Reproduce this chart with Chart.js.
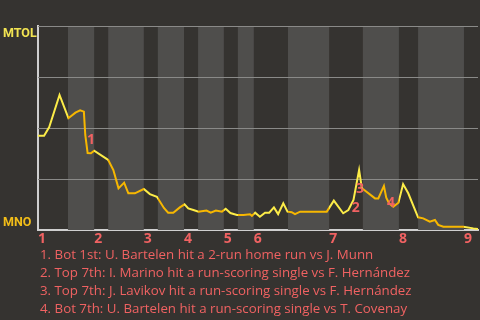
<!DOCTYPE html>
<html>
<head>
<meta charset="utf-8">
<script src="https://cdn.jsdelivr.net/npm/chart.js@4/dist/chart.umd.min.js"></script>
<style>
  html, body { margin: 0; padding: 0; background: #353330; }
  #wrap { position: relative; width: 480px; height: 320px; overflow: hidden; }
  #events { position: absolute; left: 40px; top: 244.5px; margin: 0; padding: 0; list-style: none;
            font-family: "Open Sans", sans-serif; font-size: 13.3px; line-height: 18px; color: #f06262; white-space: nowrap; }
</style>
</head>
<body>
<div id="wrap">
  <canvas id="c" width="480" height="320"></canvas>
  <ol id="events"></ol>
</div>
<script>
// ---- data ----
const teamTop = "MTOL";
const teamBottom = "MNO";
const inningLabels = ["1", "2", "3", "4", "5", "6", "7", "8", "9"];
const inningStarts = [0, 12.0, 22.6, 31.2, 39.7, 46.1, 62.2, 77.1, 91.0];
const bottomHalfStarts = [6.4, 15.0, 25.6, 34.2, 42.7, 53.4, 69.4, 81.2];
const bottomHalfEnds   = [12.0, 22.6, 31.2, 39.7, 46.1, 62.2, 77.1, 91.0];
const xMax = 94;

// event index (x) and win probability of the top team (y)
const playX = [0, 1.3, 2.4, 4.6, 6.5, 8.0, 9.0, 9.8, 10.1, 10.6, 11.3, 12.0, 14.5, 15.0, 16.1, 17.2, 18.4, 19.3, 20.7, 22.6,
  23.9, 25.4, 26.9, 27.8, 28.9, 30.3, 31.3, 32.1, 33.2, 34.3, 35.3, 36.0, 36.9, 38.0, 39.3, 40.1, 41.1, 42.5, 43.9, 45.3,
  45.7, 46.4, 47.4, 48.5, 49.4, 50.4, 51.3, 52.4, 53.3, 54.2, 54.9, 56.0, 61.7, 63.2, 65.2, 66.3, 67.4, 68.6, 69.2, 69.7,
  72.0, 72.7, 73.9, 74.4, 75.0, 75.9, 77.0, 78.0, 79.1, 81.2, 82.3, 83.7, 84.8, 85.5, 86.6, 90.9, 93.0, 94.0];
const winProb = [0.462, 0.462, 0.505, 0.662, 0.548, 0.575, 0.587, 0.580, 0.466, 0.377, 0.376, 0.389, 0.351, 0.343, 0.294, 0.204, 0.232, 0.180, 0.180, 0.201,
  0.176, 0.163, 0.108, 0.085, 0.085, 0.111, 0.126, 0.106, 0.098, 0.090, 0.093, 0.095, 0.085, 0.095, 0.090, 0.104, 0.083, 0.074, 0.074, 0.077,
  0.069, 0.085, 0.065, 0.085, 0.085, 0.111, 0.078, 0.131, 0.090, 0.087, 0.078, 0.090, 0.090, 0.144, 0.082, 0.098, 0.147, 0.294, 0.204, 0.196,
  0.155, 0.155, 0.216, 0.158, 0.131, 0.114, 0.134, 0.225, 0.180, 0.062, 0.057, 0.041, 0.049, 0.025, 0.016, 0.016, 0.008, 0.005];

// key plays
const keyPlayMarks = ["1", "2", "3", "4"];
const keyPlayX = [11.3, 67.9, 68.8, 75.4];
const keyPlayY = [0.441, 0.108, 0.201, 0.132];
const keyPlayText = [
  "Bot 1st: U. Bartelen hit a 2-run home run vs J. Munn",
  "Top 7th: I. Marino hit a run-scoring single vs F. Hernández",
  "Top 7th: J. Lavikov hit a run-scoring single vs F. Hernández",
  "Bot 7th: U. Bartelen hit a run-scoring single vs T. Covenay"
];

// ---- styles ----
const BG_LIGHT = "#4f4e4c";
const YELLOW = "#fcec48";
const AMBER = "#f7b700";
const LABEL_YELLOW = "#f2e452";
const LABEL_AMBER = "#f2bd18";
const SALMON = "#f06262";

const ol = document.getElementById("events");
keyPlayText.forEach((t, i) => {
  const li = document.createElement("li");
  li.textContent = keyPlayMarks[i] + ". " + t;
  ol.appendChild(li);
});

// line colour: yellow while the top team bats, amber while the bottom team bats
function halfInningGradient(ctx) {
  const chart = ctx.chart;
  const area = chart.chartArea;
  const xs = chart.scales && chart.scales.x;
  if (!area || !xs) return YELLOW;
  const w = area.right - area.left;
  const g = chart.ctx.createLinearGradient(area.left, 0, area.right, 0);
  const clamp = v => Math.min(1, Math.max(0, v));
  g.addColorStop(0, YELLOW);
  for (let i = 0; i < bottomHalfStarts.length; i++) {
    const f0 = clamp((xs.getPixelForValue(bottomHalfStarts[i]) - area.left) / w);
    const f1 = clamp((xs.getPixelForValue(bottomHalfEnds[i]) - area.left) / w);
    g.addColorStop(f0, YELLOW);
    g.addColorStop(f0, AMBER);
    g.addColorStop(f1, AMBER);
    g.addColorStop(f1, YELLOW);
  }
  g.addColorStop(1, YELLOW);
  return g;
}

const bandsPlugin = {
  id: "bands",
  beforeDatasetsDraw(chart) {
    const { ctx, chartArea, scales } = chart;
    ctx.save();
    ctx.fillStyle = BG_LIGHT;
    for (let i = 0; i < bottomHalfStarts.length; i++) {
      const x0 = scales.x.getPixelForValue(bottomHalfStarts[i]);
      const x1 = scales.x.getPixelForValue(bottomHalfEnds[i]);
      ctx.fillRect(x0, chartArea.top, x1 - x0, chartArea.bottom - chartArea.top);
    }
    // horizontal grid lines on top of the bands
    ctx.strokeStyle = "#8a8a88";
    ctx.lineWidth = 1;
    [0.25, 0.5, 0.75, 1].forEach(v => {
      const y = Math.round(scales.y.getPixelForValue(v)) + 0.5;
      ctx.beginPath();
      ctx.moveTo(chartArea.left, y);
      ctx.lineTo(chartArea.right, y);
      ctx.stroke();
    });
    ctx.restore();
  }
};

const marksPlugin = {
  id: "marks",
  afterDatasetsDraw(chart) {
    const { ctx, scales } = chart;
    ctx.save();
    ctx.fillStyle = SALMON;
    ctx.font = "bold 14px 'Open Sans', sans-serif";
    ctx.textAlign = "center";
    ctx.textBaseline = "middle";
    keyPlayMarks.forEach((m, i) => {
      ctx.fillText(m, scales.x.getPixelForValue(keyPlayX[i]), scales.y.getPixelForValue(keyPlayY[i]));
    });
    ctx.restore();
  }
};

new Chart(document.getElementById("c"), {
  type: "line",
  data: {
    datasets: [{
      data: playX.map((x, i) => ({ x: x, y: winProb[i] })),
      borderWidth: 2,
      pointRadius: 0,
      tension: 0,
      fill: false,
      borderColor: halfInningGradient
    }]
  },
  options: {
    responsive: false,
    animation: false,
    layout: { padding: { top: 26, right: 2, bottom: 0, left: 3 } },
    plugins: { legend: { display: false }, tooltip: { enabled: false } },
    scales: {
      x: {
        type: "linear",
        min: 0,
        max: xMax,
        afterBuildTicks: s => { s.ticks = inningStarts.map(v => ({ value: v })); },
        afterFit: s => { s.height = 90; },
        grid: { display: false, drawTicks: false },
        border: { display: true, color: "#cfcfcf", width: 2 },
        ticks: {
          autoSkip: false, maxRotation: 0, align: "start", padding: 1,
          color: SALMON,
          font: { family: "'Open Sans', sans-serif", weight: "bold", size: 14 },
          callback: (v, i) => inningLabels[i]
        }
      },
      y: {
        min: 0,
        max: 1,
        afterBuildTicks: s => { s.ticks = [0, 0.25, 0.5, 0.75, 1].map(v => ({ value: v })); },
        afterFit: s => { s.width = 35; },
        grid: { display: false, drawTicks: false },
        border: { display: true, color: "#cfcfcf", width: 2 },
        ticks: {
          crossAlign: "far", padding: 0,
          color: c => c.tick.value === 1 ? LABEL_YELLOW : LABEL_AMBER,
          font: { family: "Roboto, sans-serif", weight: "bold", size: 12.5, lineHeight: 1.2 },
          callback: v => v === 1 ? ["", teamTop] : (v === 0 ? [teamBottom, ""] : "")
        }
      }
    }
  },
  plugins: [bandsPlugin, marksPlugin]
});
</script>
</body>
</html>
